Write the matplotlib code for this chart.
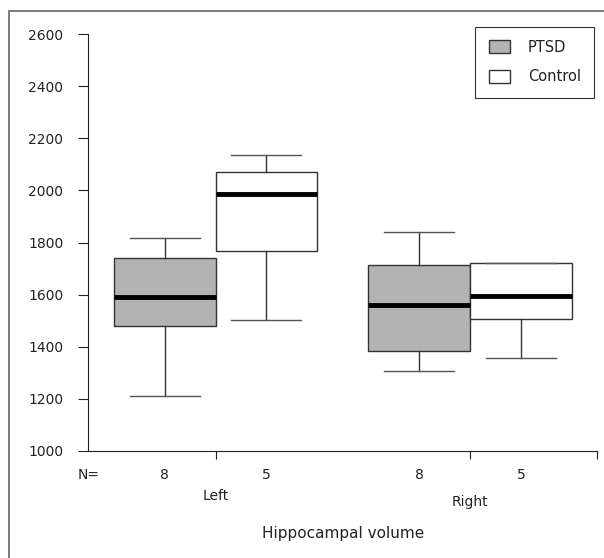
import matplotlib
matplotlib.use("Agg")
import matplotlib.pyplot as plt
from matplotlib.patches import Patch, Rectangle

# DATA
groups = ["Left", "Right"]
series = ["PTSD", "Control"]
counts = [8, 5, 8, 5]
whisker_low = [1211, 1502, 1307, 1357]
box_q1 = [1480, 1767, 1383, 1506]
box_med = [1592, 1985, 1560, 1596]
box_q3 = [1741, 2072, 1713, 1720]
whisker_high = [1816, 2136, 1839, 1720]
y_ticks = [1000, 1200, 1400, 1600, 1800, 2000, 2200, 2400, 2600]

# layout: group centres at 0 and 1, PTSD left of centre, Control right
offsets = [-0.2, 0.2]
box_pos = [g + o for g in range(len(groups)) for o in offsets]
box_colors = ["#b3b3b3", "white"]

plt.rcParams["font.family"] = ["DejaVu Sans"]
fig = plt.figure(figsize=(6.04, 5.58), dpi=100)
W, H = 604, 558
ax = fig.add_axes([88.3 / W, 1 - 450.7 / H, (597.3 - 88.3) / W, (450.7 - 34.3) / H])

stats = []
for i in range(len(box_pos)):
    stats.append(dict(whislo=whisker_low[i], q1=box_q1[i], med=box_med[i],
                      q3=box_q3[i], whishi=whisker_high[i], fliers=[]))

art = ax.bxp(stats, positions=box_pos, widths=0.4, patch_artist=True,
             showfliers=False, manage_ticks=False,
             boxprops=dict(edgecolor="#333333", linewidth=1.0),
             whiskerprops=dict(color="#333333", linewidth=1.0),
             capprops=dict(color="#555555", linewidth=1.0),
             medianprops=dict(color="black", linewidth=3.5, solid_capstyle="butt"),
             capwidths=0.275)
for i, b in enumerate(art["boxes"]):
    b.set_facecolor(box_colors[i % 2])
for key in ["boxes", "whiskers", "caps", "medians"]:
    for a in art[key]:
        a.set_clip_on(False)

ax.set_xlim(-0.5, 1.5)
ax.set_ylim(1000, 2600)
ax.set_yticks(y_ticks)
ax.set_xticks([0, 1, 1.5])
ax.set_xticklabels([])
ax.spines["top"].set_visible(False)
ax.spines["right"].set_visible(False)
for s in ["left", "bottom"]:
    ax.spines[s].set_color("#222222")
ax.tick_params(axis="y", length=7, width=0.8, pad=11, labelsize=10,
               colors="#222222")
ax.tick_params(axis="x", direction="out", length=6, width=0.8, colors="#222222")

xt = ax.get_xaxis_transform()
txt = dict(ha="center", va="center", fontsize=10, color="#222222")
# N= counts under each box
ax.text(-0.5, -0.058, "N=", transform=xt, **txt)
for p, n in zip(box_pos, counts):
    ax.text(p, -0.058, str(n), transform=xt, **txt)
ax.text(0, -0.109, groups[0], transform=xt, **txt)
ax.text(1, -0.124, groups[1], transform=xt, **txt)
ax.set_xlabel("Hippocampal volume", fontsize=11, color="#222222")
ax.xaxis.set_label_coords(0.5, -0.182)

handles = [Patch(facecolor=box_colors[0], edgecolor="#333333", label=series[0]),
           Patch(facecolor=box_colors[1], edgecolor="#333333", label=series[1])]
leg = fig.legend(handles=handles, loc="upper right",
                 bbox_to_anchor=(594 / W, 1 - 26.7 / H), fancybox=False,
                 edgecolor="black", fontsize=10.5, handlelength=1.5,
                 handleheight=1.0, borderpad=0.9, labelspacing=1.0,
                 handletextpad=1.2, borderaxespad=0)
leg.get_frame().set_linewidth(0.8)
for t in leg.get_texts():
    t.set_color("#222222")

# outer frame (only left and top edges fall inside the picture)
fig.patches.append(Rectangle((9 / W, -0.2), 1.2, 1.2 - 10.7 / H, fill=False,
                             edgecolor="#666666", linewidth=1.2,
                             transform=fig.transFigure))

fig.savefig("out.png", dpi=100)
